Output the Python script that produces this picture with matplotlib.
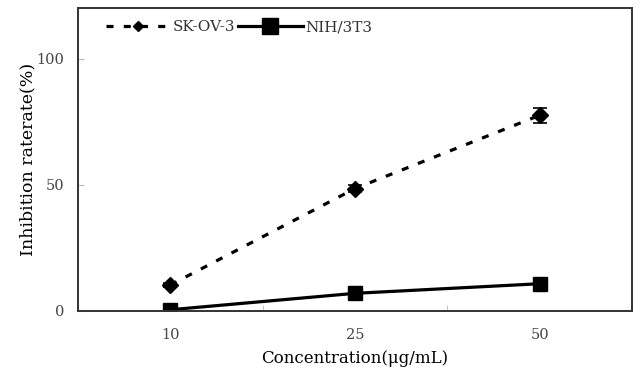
import matplotlib
matplotlib.use("Agg")
import matplotlib.pyplot as plt
from matplotlib.lines import Line2D

categories = ["10", "25", "50"]
skov3 = [10.3, 48.5, 77.5]
skov3_err = [0.8, 1.5, 3.0]
nih3t3 = [0.5, 7.0, 10.8]
nih3t3_err = [0.3, 0.5, 0.6]
yticks = [0, 50, 100]

plt.rcParams['font.family'] = ['DejaVu Serif']
fig = plt.figure(figsize=(6.41, 3.69), dpi=100)
ax = fig.add_axes([78/641, 1-311/369, (632-78)/641, (311-8)/369])

x = list(range(1, len(categories)+1))
dash = (0, (2.2, 3.2))
ax.errorbar(x, skov3, yerr=skov3_err, color='black', lw=2.3, ls=dash,
            marker='D', ms=8, capsize=5, capthick=1.2, elinewidth=1.2)
ax.errorbar(x, nih3t3, yerr=nih3t3_err, color='black', lw=2.3, ls='-',
            marker='s', ms=10, capsize=5, capthick=1.2, elinewidth=1.2)

ax.set_xlim(0.5, 3.5)
ax.set_ylim(0, 120)
ax.set_xticks(x)
ax.set_xticklabels(categories)
ax.set_xticks([1.5, 2.5], minor=True)
ax.set_yticks(yticks)
ax.tick_params(axis='x', which='major', length=0, pad=12, labelsize=10.5, labelcolor='#444')
ax.tick_params(axis='x', which='minor', length=4, direction='in', color='#bbb')
ax.tick_params(axis='y', length=4, direction='in', color='#bbb', pad=10, labelsize=10.5, labelcolor='#444')
for s in ax.spines.values():
    s.set_color('#333')
    s.set_linewidth(1.4)

ax.set_xlabel('Concentration(μg/mL)', fontsize=12, labelpad=6)
ax.set_ylabel('Inhibition raterate(%)', fontsize=12.5, labelpad=0)

handles = [Line2D([], [], color='black', lw=2.3, ls=dash, marker='D', ms=5),
           Line2D([], [], color='black', lw=2.3, ls='-', marker='s', ms=11)]
leg = ax.legend(handles, ['SK-OV-3', 'NIH/3T3'], loc='upper left', ncol=2, frameon=False,
                fontsize=11, bbox_to_anchor=(0.025, 1.005), handlelength=4.2,
                columnspacing=0.2, handletextpad=0.2)
for t in leg.get_texts():
    t.set_color('#333')

fig.savefig('out.png', dpi=100)
